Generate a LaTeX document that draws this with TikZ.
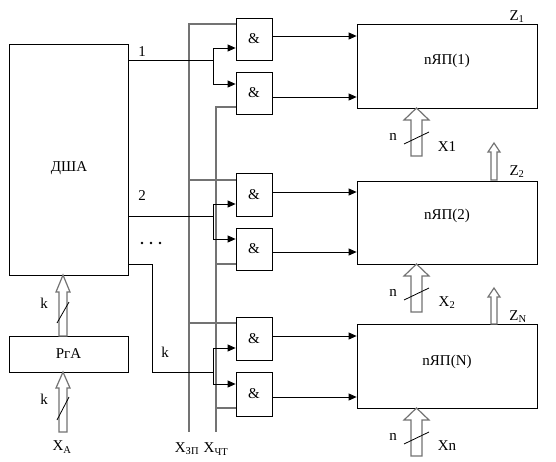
\documentclass[tikz,border=0pt]{standalone}
\usepackage{fontspec}
\setmainfont{Liberation Serif}
\usetikzlibrary{arrows.meta,calc}
\newcommand\hollowup[7][]{% hollow arrow: x, ybottom, ytop, shaftHalf, headHalf, headLen
  \draw[hol,#1] (#2-#5,#3) -- (#2-#5,#4+#7) -- (#2-#6,#4+#7) -- (#2,#4) -- (#2+#6,#4+#7) -- (#2+#5,#4+#7) -- (#2+#5,#3) -- cycle;}
\begin{document}
\begin{tikzpicture}[x=1pt,y=-1pt,
  box/.style={draw,line width=0.8pt,inner sep=0pt},
  lbl/.style={inner sep=0pt,font=\fontsize{15}{17}\selectfont},
  wire/.style={line width=0.8pt},
  gwire/.style={line width=1.3pt,draw=black!55},
  arr/.style={wire,-{Triangle[length=8pt,width=7pt]}},
  hol/.style={draw=black!55,line width=1.2pt,fill=white,line join=miter},
  slash/.style={line width=0.8pt},
  ]
\useasboundingbox (0,0) rectangle (556,461);
\fill[white] (0,0) rectangle (556,461);

% main boxes
\node[box,minimum width=119pt,minimum height=231pt] (dsha) at (68.5,159.5) {};
\node[lbl] (dshaL) at (69,168) {ДША};
\node[box,minimum width=119pt,minimum height=36pt,lbl] (rga) at (68.5,354) {РгА};

% gates
\foreach \n/\y/\h in {g1/39/42,g2/93/42,g3/194.5/43,g4/249/42,g5/338.5/43,g6/394/44}
  \node[box,minimum width=36pt,minimum height=\h pt,lbl] (\n) at (254,\y) {\&};

% registers
\node[box,minimum width=180pt,minimum height=84pt] (r1) at (447,66) {};
\node[box,minimum width=180pt,minimum height=83pt] (r2) at (447,222.5) {};
\node[box,minimum width=180pt,minimum height=84pt] (r3) at (447,366) {};
\node[lbl] (r1L) at (447,61) {nЯП(1)};
\node[lbl] (r2L) at (447,216) {nЯП(2)};
\node[lbl] (r3L) at (447,362) {nЯП(N)};

% control lines X_ZP and X_CHT
\coordinate (zpT) at (189,24);  \coordinate (zpB) at (189,432);
\coordinate (ctT) at (216,107); \coordinate (ctB) at (216,432);
\draw[gwire] (g1.west |- zpT) -- (zpT) -- (zpB);
\draw[gwire] (g2.west |- ctT) -- (ctT) -- (ctB);
\draw[gwire] (189,180) -- (g3.west |- 0,180);
\draw[gwire] (189,323) -- (g5.west |- 0,323);
\draw[gwire] (216,264) -- (g4.west |- 0,264);
\draw[gwire] (216,408) -- (g6.west |- 0,408);

% address lines
\coordinate (b1) at (213,60);
\coordinate (b2) at (213,216);
\coordinate (k0) at (152,264);
\coordinate (b3) at (213,372);
\draw[wire] (dsha.east |- b1) -- (b1);
\draw[arr] (b1) -- (213,48) -- (g1.west |- 0,48);
\draw[arr] (b1) -- (213,84) -- (g2.west |- 0,84);
\draw[wire] (dsha.east |- b2) -- (b2);
\draw[arr] (b2) -- (213,204) -- (g3.west |- 0,204);
\draw[arr] (b2) -- (213,239) -- (g4.west |- 0,239);
\draw[wire] (dsha.east |- k0) -- (k0) |- (b3);
\draw[arr] (b3) -- (213,348) -- (g5.west |- 0,348);
\draw[arr] (b3) -- (213,384) -- (g6.west |- 0,384);

% gate outputs
\draw[arr] (g1.east |- 0,36) -- (r1.west |- 0,36);
\draw[arr] (g2.east |- 0,97) -- (r1.west |- 0,97);
\draw[arr] (g3.east |- 0,192) -- (r2.west |- 0,192);
\draw[arr] (g4.east |- 0,252) -- (r2.west |- 0,252);
\draw[arr] (g5.east |- 0,336) -- (r3.west |- 0,336);
\draw[arr] (g6.east |- 0,397) -- (r3.west |- 0,397);

% hollow bus arrows
\hollowup{63}{336}{275}{4}{7}{17}
\hollowup{63}{432}{372}{4}{7}{16}
\hollowup{416.5}{156}{108}{5.5}{12.5}{12}
\hollowup{416.5}{312}{264}{5.5}{12.5}{12}
\hollowup{416.5}{456}{408}{5.5}{12.5}{12}
\hollowup{494}{180}{143}{3}{6}{9}
\hollowup{494}{324}{288}{3}{6}{9}

% bus width slashes
\draw[slash] (57,323) -- (69,302);
\draw[slash] (57,420) -- (69,397);
\draw[slash] (404,144) -- (429,132);
\draw[slash] (404,300) -- (429,288);
\draw[slash] (404,444) -- (429,432);

% labels
\node[lbl] (l1) at (142,52) {1};
\node[lbl] (l2) at (142,196) {2};
\node[lbl] (lk) at (165,352) {k};
\foreach \i/\xx in {1/142,2/151,3/160}
  \fill (\xx,243) circle (1.3pt);
\node[lbl] (kA) at (44,303) {k};
\node[lbl] (kB) at (44,399) {k};
\node[lbl] (xa) at (62,447) {X\textsubscript{A}};
\node[lbl] (xzp) at (187,449) {X\textsubscript{ЗП}};
\node[lbl] (xct) at (216,449) {X\textsubscript{ЧТ}};
\node[lbl] (n1) at (393,137) {n};
\node[lbl] (n2) at (393,293) {n};
\node[lbl] (n3) at (393,437) {n};
\node[lbl] (x1) at (447,147) {X1};
\node[lbl] (x2) at (447,303) {X\textsubscript{2}};
\node[lbl] (xn) at (447,446) {Xn};
\node[lbl] (z1) at (517,17) {Z\textsubscript{1}};
\node[lbl] (z2) at (517,172) {Z\textsubscript{2}};
\node[lbl] (zn) at (518,317) {Z\textsubscript{N}};
\end{tikzpicture}
\end{document}
